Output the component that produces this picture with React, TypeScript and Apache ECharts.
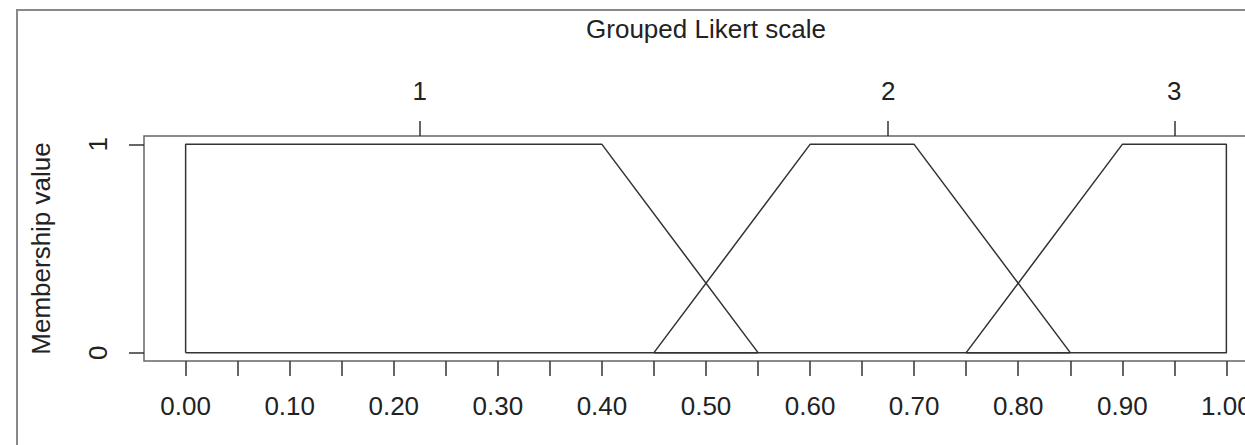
import React, { useEffect, useRef } from "react";
import * as echarts from "echarts";

// Bottom axis (proportion scale)
const xTickValues = [0, 0.05, 0.1, 0.15, 0.2, 0.25, 0.3, 0.35, 0.4, 0.45, 0.5, 0.55, 0.6, 0.65, 0.7, 0.75, 0.8, 0.85, 0.9, 0.95, 1];
const xLabelValues = [0, 0.1, 0.2, 0.3, 0.4, 0.5, 0.6, 0.7, 0.8, 0.9, 1];

// Top axis (grouped Likert scale)
const likertPositions = [0.225, 0.675, 0.95];
const likertLabels = ["1", "2", "3"];

// Left axis
const yTickValues = [0, 1];

// Membership functions (closed trapezoids)
const set1X = [0, 0, 0.4, 0.55, 0];
const set1Y = [0, 1, 1, 0, 0];
const set2X = [0.45, 0.6, 0.7, 0.85, 0.45];
const set2Y = [0, 1, 1, 0, 0];
const set3X = [0.75, 0.9, 1, 1, 0.75];
const set3Y = [0, 1, 1, 0, 0];

const FONT = "'Liberation Sans', Arial, sans-serif";
const TEXT = "#222";
const LINE = "#333";

function pairs(xs: number[], ys: number[]) {
  return xs.map((x, i) => [x, ys[i]]);
}

export default function App() {
  const ref = useRef<HTMLDivElement>(null);

  useEffect(() => {
    const chart = echarts.init(ref.current!, undefined, { renderer: "svg" });
    const tickStyle = { color: LINE, width: 1.5 };
    const labelBase = { fontSize: 26, fontFamily: FONT, color: TEXT };
    const lineSeries = (name: string, xs: number[], ys: number[]) => ({
      name,
      type: "line",
      xAxisIndex: 0,
      yAxisIndex: 0,
      data: pairs(xs, ys),
      symbol: "none",
      lineStyle: { color: LINE, width: 1.5 },
      silent: true,
    });
    chart.setOption({
      animation: false,
      backgroundColor: "#fff",
      graphic: [
        {
          type: "rect",
          shape: { x: 17, y: 10, width: 1500, height: 700 },
          style: { fill: "none", stroke: "#888", lineWidth: 2 },
          silent: true,
        },
      ],
      grid: {
        left: 144,
        top: 136,
        width: 1124,
        height: 225,
        show: true,
        borderColor: "#666",
        borderWidth: 1.5,
        backgroundColor: "transparent",
      },
      xAxis: [
        {
          type: "value",
          position: "bottom",
          min: -0.04,
          max: 1.04,
          axisLine: { show: false, onZero: false },
          splitLine: { show: false },
          axisTick: { customValues: xTickValues, length: 15, inside: false, lineStyle: tickStyle },
          axisLabel: {
            ...labelBase,
            customValues: xLabelValues,
            margin: 32,
            formatter: (v: number) => v.toFixed(2),
          },
        },
        {
          type: "value",
          position: "top",
          min: -0.04,
          max: 1.04,
          name: "Grouped Likert scale",
          nameLocation: "middle",
          nameGap: 94,
          nameTextStyle: { ...labelBase },
          axisLine: { show: false, onZero: false },
          splitLine: { show: false },
          axisTick: { customValues: likertPositions, length: 15, inside: false, lineStyle: tickStyle },
          axisLabel: {
            ...labelBase,
            customValues: likertPositions,
            margin: 32,
            formatter: (v: number) => {
              let best = 0;
              likertPositions.forEach((p, i) => {
                if (Math.abs(p - v) < Math.abs(likertPositions[best] - v)) best = i;
              });
              return likertLabels[best];
            },
          },
        },
      ],
      yAxis: {
        type: "value",
        min: -0.04,
        max: 1.04,
        name: "Membership value",
        nameLocation: "middle",
        nameGap: 90,
        nameRotate: 90,
        nameTextStyle: { ...labelBase },
        axisLine: { show: false, onZero: false },
        splitLine: { show: false },
        axisTick: { customValues: yTickValues, length: 15, inside: false, lineStyle: tickStyle },
        axisLabel: {
          ...labelBase,
          customValues: yTickValues,
          rotate: 90,
          margin: 33,
          formatter: (v: number) => String(v),
        },
      },
      series: [
        lineSeries("Likert 1", set1X, set1Y),
        lineSeries("Likert 2", set2X, set2Y),
        lineSeries("Likert 3", set3X, set3Y),
      ],
    });
    return () => {
      chart.dispose();
    };
  }, []);

  return (
    <div
      style={{
        position: "fixed",
        left: 0,
        top: 0,
        width: 1245,
        height: 445,
        overflow: "hidden",
        background: "#fff",
      }}
    >
      <div ref={ref} style={{ width: 1300, height: 445 }} />
    </div>
  );
}
